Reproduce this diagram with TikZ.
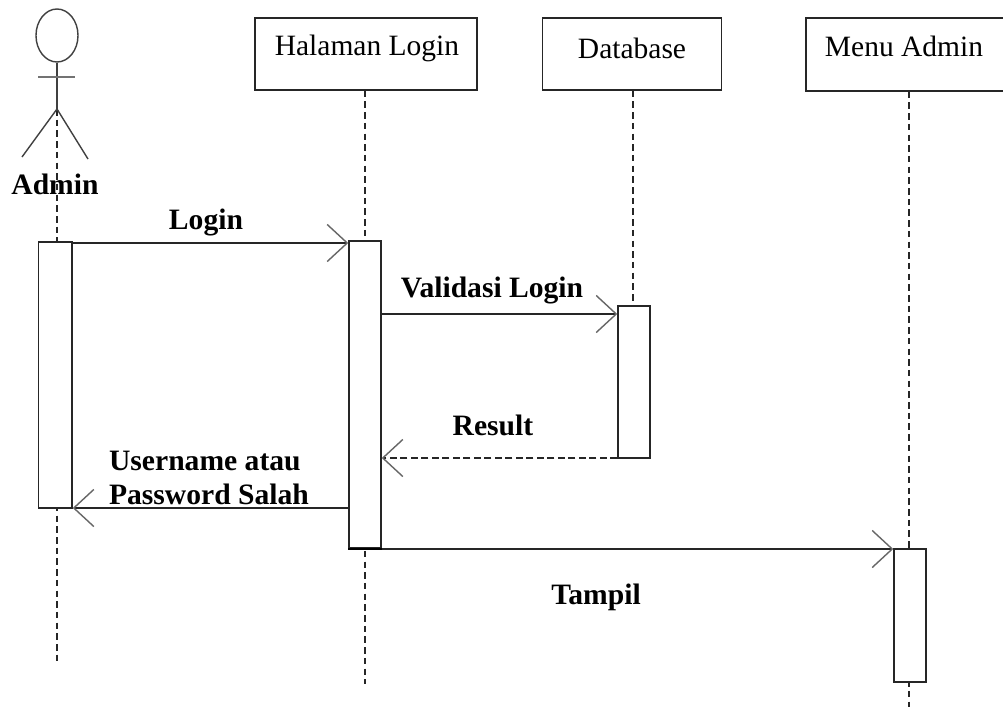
\documentclass[tikz,border=0pt]{standalone}
\usepackage{fontspec}
\setmainfont{Liberation Serif}
\usetikzlibrary{arrows.meta,shapes.geometric}
\begin{document}
\begin{tikzpicture}[x=1pt,y=-1pt,
  box/.style={draw=black!85,line width=1.5pt,fill=white,inner sep=0pt,text=black},
  boxtext/.style={font=\fontsize{29.5}{34}\selectfont,inner sep=0pt,text=black},
  act/.style={draw=black!85,line width=1.5pt,fill=white,inner sep=0pt},
  life/.style={draw=black!85,line width=1.2pt,dash pattern=on 6.5pt off 4.2pt},
  stick/.style={draw=black!75,line width=1.4pt},
  msg/.style={draw=black!85,line width=1.4pt,-{Straight Barb[length=20pt,width=37pt,line width=1.4pt,black!60]}},
  lbl/.style={font=\bfseries\fontsize{29.6}{34}\selectfont,inner sep=0pt,align=left,text=black}]
\useasboundingbox (0,0) rectangle (1003,707);
\fill[white] (0,0) rectangle (1003,707);
% lifeline ends and message levels
\coordinate (a1) at (57,109);
\coordinate (a2) at (57,662);
\coordinate (h2) at (365,684);
\coordinate (d2) at (633,306);
\coordinate (m2) at (909,707);
\coordinate (y1) at (0,243);
\coordinate (y2) at (0,314);
\coordinate (y3) at (0,458);
\coordinate (y4) at (0,508);
\coordinate (y5) at (0,549);
% heads
\node[box,minimum width=222pt,minimum height=72pt] (hl) at (366,54) {};
\node[box,minimum width=179pt,minimum height=72pt] (db) at (632,54) {};
\node[box,minimum width=200pt,minimum height=73pt] (ma) at (906,54.5) {};
\node[boxtext] (hlt) at (367,48) {Halaman Login};
\node[boxtext] (dbt) at (632,48) {Database};
\node[boxtext] (mat) at (904,46) {Menu Admin};
% lifelines
\draw[life] (a1) -- (a2);
\draw[life] (hl.south -| h2) -- (h2);
\draw[life] (db.south -| d2) -- (d2);
\draw[life] (ma.south -| m2) -- (m2);
% actor
\node[draw=black!75,line width=1.4pt,ellipse,minimum width=42pt,minimum height=53pt,inner sep=0pt] (ahead) at (57,35.5) {};
\coordinate (la) at (38,77);
\coordinate (ra) at (75,77);
\coordinate (ll) at (22,157);
\coordinate (rl) at (88,159);
\draw[stick] (ahead.south) -- (a1);
\draw[draw=black!55,line width=2.2pt] (la) -- (ra);
\draw[stick] (ll) -- (a1) -- (rl);
\node[lbl] (admin) at (55,184) {Admin};
% activations
\node[act,minimum width=33.5pt,minimum height=266pt] (aa) at (55.25,375) {};
\node[act,minimum width=32pt,minimum height=307pt] (ah) at (365,394.5) {};
\node[act,minimum width=32pt,minimum height=152pt] (ad) at (634,382) {};
\node[act,minimum width=32pt,minimum height=133pt] (am) at (910,615.5) {};
\draw[black,line width=2.4pt] (ah.south west) -- (ah.south east);
% messages
\draw[msg] (aa.east |- y1) -- (ah.west |- y1);
\draw[msg] (ah.east |- y2) -- (ad.west |- y2);
\draw[msg,dash pattern=on 7pt off 3.5pt] (ad.west |- y3) -- (ah.east |- y3);
\draw[msg] (ah.west |- y4) -- (aa.east |- y4);
\draw[msg] (ah.east |- y5) -- (am.west |- y5);
% labels
\node[lbl] (l1) at (206,222) {Login};
\node[lbl] (l2) at (492,290) {Validasi Login};
\node[lbl] (l3) at (493,425) {Result};
\node[lbl] (l4) at (209,478) {Username atau\\Password Salah};
\node[lbl] (l5) at (596,597) {Tampil};
\end{tikzpicture}
\end{document}
